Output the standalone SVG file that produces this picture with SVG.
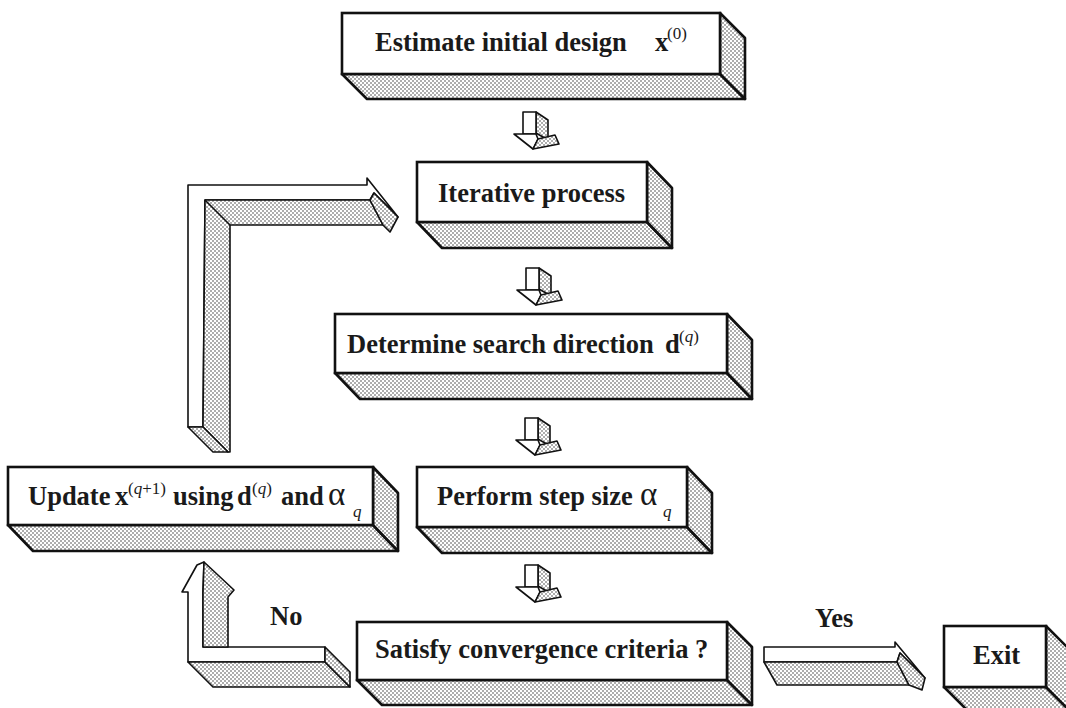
<svg xmlns="http://www.w3.org/2000/svg" xmlns:xlink="http://www.w3.org/1999/xlink" width="1066" height="708" viewBox="0 0 1066 708">
  <defs>
    <!-- stipple used on the shaded faces -->
    <pattern id="stipple" width="4" height="4" patternUnits="userSpaceOnUse">
      <rect width="4" height="4" fill="#fff"/>
      <circle cx="1" cy="1" r="0.75" fill="#333"/>
      <circle cx="3" cy="3" r="0.75" fill="#333"/>
    </pattern>
    <style>
      .front { fill: #fff; stroke: #111; stroke-width: 2.6; }
      .shade { fill: url(#stipple); stroke: #111; stroke-width: 2.6; stroke-linejoin: round; }
      .aw { fill: #fff; stroke: #111; stroke-width: 1.6; stroke-linejoin: round; }
      .ad { fill: url(#stipple); stroke: #111; stroke-width: 1.6; stroke-linejoin: round; }
      .lbl { font-family: "Liberation Serif", "Times New Roman", serif; font-weight: bold; font-size: 26.5px; fill: #1a1a1a; }
      .sup { font-family: "Liberation Serif", "Times New Roman", serif; font-weight: normal; font-size: 17px; fill: #1a1a1a; }
      .greek { font-family: "Liberation Serif", "Times New Roman", serif; font-weight: normal; font-size: 33px; fill: #1a1a1a; }
      .it { font-style: italic; }
    </style>
    <!-- small 3D down arrow, origin at top-left of the shaft -->
    <g id="downArrow">
      <polygon class="ad" points="13,0 25,8 25,28 13,21"/>
      <polygon class="aw" points="0,0 13,0 13,22 0,22"/>
      <polygon class="aw" points="-9,22 13,22 15,27 10,37"/>
      <polygon class="ad" points="10,37 15,27 32,23 36,32"/>
    </g>
  </defs>

  <rect width="1066" height="708" fill="#fff"/>

  <!-- connectors -->
  <g id="connectors">
    <use xlink:href="#downArrow" x="523" y="112"/>
    <use xlink:href="#downArrow" x="526" y="268"/>
    <use xlink:href="#downArrow" x="525" y="418"/>
    <use xlink:href="#downArrow" x="525" y="565"/>

    <!-- loop back: Update -> Iterative process -->
    <g id="loopArrow">
      <polygon class="aw" points="188,185 367,185 367,178 398,217 374,193 370,200 205,200 203,427 188,427"/>
      <polygon class="ad" points="205,200 370,200 383,225 230,225 230,452 228,452 203,427"/>
      <line x1="205" y1="200" x2="230" y2="225" stroke="#111" stroke-width="1.6"/>
      <polygon class="ad" points="370,200 374,193 398,217 390,232 383,225"/>
      <polygon class="ad" points="188,427 203,427 228,452 213,452"/>
    </g>

    <!-- No: Satisfy -> Update -->
    <g id="noArrow">
      <polygon class="aw" points="182,592 197,565 204,562 203,592 203,647 325,647 325,662 188,662 188,592"/>
      <polygon class="ad" points="203,592 204,562 234,590 228,597 228,647 203,647"/>
      <polygon class="ad" points="188,662 325,662 350,687 213,687"/>
      <polygon class="ad" points="325,647 350,672 350,687 325,662"/>
    </g>

    <!-- Yes: Satisfy -> Exit -->
    <g id="yesArrow">
      <polygon class="aw" points="764,647 895,647 895,642 925,678 900,653 897,662 764,662"/>
      <polygon class="ad" points="764,662 897,662 909,685 777,685"/>
      <polygon class="ad" points="897,662 900,653 925,678 922,690 909,685"/>
    </g>
  </g>

  <!-- nodes -->
  <g id="estimate">
    <polygon class="shade" points="342,74 720,74 745,99 367,99"/>
    <polygon class="shade" points="720,13 745,38 745,99 720,74"/>
    <rect class="front" x="342" y="13" width="378" height="61"/>
    <text class="lbl" x="375" y="51">Estimate initial design</text>
    <text class="lbl" x="655" y="51">x</text>
    <text class="sup" x="667" y="39">(0)</text>
  </g>

  <g id="iterative">
    <polygon class="shade" points="417,222 647,222 672,248 442,248"/>
    <polygon class="shade" points="647,162 672,188 672,248 647,222"/>
    <rect class="front" x="417" y="162" width="230" height="60"/>
    <text class="lbl" x="438" y="202">Iterative process</text>
  </g>

  <g id="direction">
    <polygon class="shade" points="335,373 727,373 752,399 360,399"/>
    <polygon class="shade" points="727,314 752,340 752,399 727,373"/>
    <rect class="front" x="335" y="314" width="392" height="59"/>
    <text class="lbl" x="347" y="353">Determine search direction</text>
    <text class="lbl" x="665" y="353">d</text>
    <text class="sup" x="679" y="342">(<tspan class="it">q</tspan>)</text>
  </g>

  <g id="update">
    <polygon class="shade" points="8,525 373,525 398,551 33,551"/>
    <polygon class="shade" points="373,467 398,493 398,551 373,525"/>
    <rect class="front" x="8" y="467" width="365" height="58"/>
    <text class="lbl" x="28" y="505">Update</text>
    <text class="lbl" x="115" y="505">x</text>
    <text class="sup" x="128" y="494">(<tspan class="it">q</tspan>+1)</text>
    <text class="lbl" x="173" y="505">using</text>
    <text class="lbl" x="237" y="505">d</text>
    <text class="sup" x="252" y="494">(<tspan class="it">q</tspan>)</text>
    <text class="lbl" x="281" y="505">and</text>
    <text class="greek" x="328" y="505">α</text>
    <text class="sup it" x="353" y="517">q</text>
  </g>

  <g id="stepsize">
    <polygon class="shade" points="417,527 687,527 712,553 442,553"/>
    <polygon class="shade" points="687,467 712,493 712,553 687,527"/>
    <rect class="front" x="417" y="467" width="270" height="60"/>
    <text class="lbl" x="437" y="505">Perform step size</text>
    <text class="greek" x="640" y="505">α</text>
    <text class="sup it" x="663" y="517">q</text>
  </g>

  <g id="convergence">
    <polygon class="shade" points="357,680 727,680 752,705 382,705"/>
    <polygon class="shade" points="727,622 752,647 752,705 727,680"/>
    <rect class="front" x="357" y="622" width="370" height="58"/>
    <text class="lbl" x="375" y="658">Satisfy convergence criteria ?</text>
  </g>

  <g id="exit">
    <polygon class="shade" points="944,687 1046,687 1071,712 969,712"/>
    <polygon class="shade" points="1046,626 1071,651 1071,712 1046,687"/>
    <rect class="front" x="944" y="626" width="102" height="61"/>
    <text class="lbl" x="973" y="664">Exit</text>
  </g>

  <!-- branch labels -->
  <text class="lbl" x="815" y="627">Yes</text>
  <text class="lbl" x="270" y="625">No</text>
</svg>
